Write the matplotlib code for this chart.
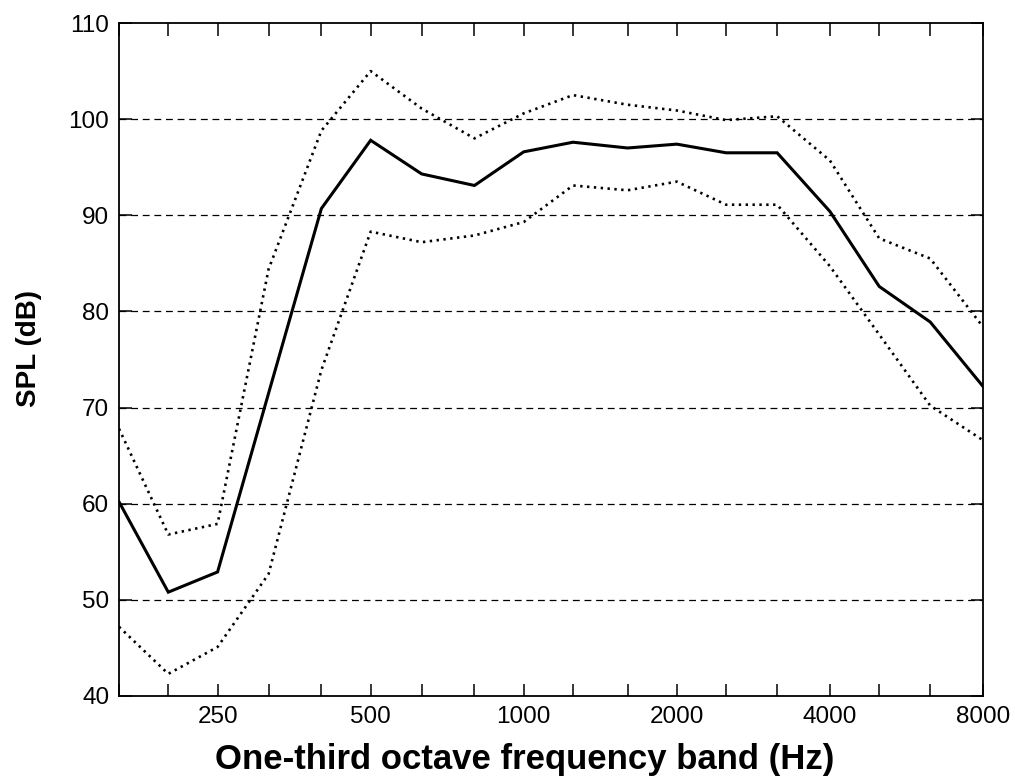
import matplotlib
matplotlib.use("Agg")
import matplotlib.pyplot as plt
from matplotlib.ticker import FixedLocator, FixedFormatter, NullLocator
from matplotlib import font_manager

# One-third octave band centre frequencies (Hz)
freq = [160, 200, 250, 315, 400, 500, 630, 800, 1000, 1250, 1600,
        2000, 2500, 3150, 4000, 5000, 6300, 8000]

# Sound pressure levels (dB): mean and upper/lower bounds
spl_mean = [60.2, 50.8, 52.9, 71.5, 90.7, 97.8, 94.3, 93.1, 96.6, 97.6,
            97.0, 97.4, 96.5, 96.5, 90.4, 82.6, 78.9, 72.2]
spl_upper = [67.8, 56.8, 57.9, 84.4, 98.8, 105.0, 101.1, 98.0, 100.6, 102.5,
             101.5, 100.9, 99.9, 100.3, 95.7, 87.6, 85.5, 78.4]
spl_lower = [47.2, 42.3, 45.1, 52.7, 73.9, 88.3, 87.2, 87.9, 89.3, 93.1,
             92.6, 93.5, 91.1, 91.1, 84.7, 77.6, 70.2, 66.6]

octave_labels = ["250", "500", "1000", "2000", "4000", "8000"]
y_ticks = [40, 50, 60, 70, 80, 90, 100, 110]

available = {f.name for f in font_manager.fontManager.ttflist}
tick_family = "Liberation Sans Narrow" if "Liberation Sans Narrow" in available else "Liberation Sans"
label_family = "Liberation Sans" if "Liberation Sans" in available else "DejaVu Sans"

fig = plt.figure(figsize=(10.15, 7.77), dpi=100)
ax = fig.add_axes([119 / 1015, 1 - 696 / 777, (983 - 119) / 1015, (696 - 23) / 777])

ax.set_xscale("log")
ax.set_xlim(freq[0], freq[-1])
ax.set_ylim(y_ticks[0], y_ticks[-1])

# horizontal dashed grid
for yv in y_ticks[1:-1]:
    ax.axhline(yv, color="black", lw=0.9, linestyle=(0, (5.5, 3.8)), zorder=1)

ax.plot(freq, spl_upper, color="black", lw=1.9, linestyle=(0, (0.9, 1.7)), zorder=3)
ax.plot(freq, spl_lower, color="black", lw=1.9, linestyle=(0, (0.9, 1.7)), zorder=3)
ax.plot(freq, spl_mean, color="black", lw=2.2, solid_joinstyle="miter", zorder=4)

# ticks at every band, labels at octave bands
ax.xaxis.set_major_locator(FixedLocator(freq))
ax.xaxis.set_minor_locator(NullLocator())
xlabels = [str(f) if str(f) in octave_labels else "" for f in freq]
ax.xaxis.set_major_formatter(FixedFormatter(xlabels))
ax.set_yticks(y_ticks)
ax.set_yticklabels([str(v) for v in y_ticks])

ax.tick_params(axis="both", which="major", direction="in", length=9, width=1.1,
               top=True, right=True, labelsize=17.5, pad=7, colors="black")
for lbl in ax.get_xticklabels() + ax.get_yticklabels():
    lbl.set_family(tick_family)

for sp in ax.spines.values():
    sp.set_linewidth(1.3)
    sp.set_color("black")

ax.set_xlabel("One-third octave frequency band (Hz)", fontsize=25,
              fontweight="bold", family=label_family, va="center")
ax.xaxis.set_label_coords(0.469, -0.094)
ax.set_ylabel("SPL (dB)", fontsize=20, fontweight="bold",
              family=label_family, va="center", ha="center")
ax.yaxis.set_label_coords(-0.104, 0.516)

fig.savefig("out.png", dpi=100, facecolor="white")
